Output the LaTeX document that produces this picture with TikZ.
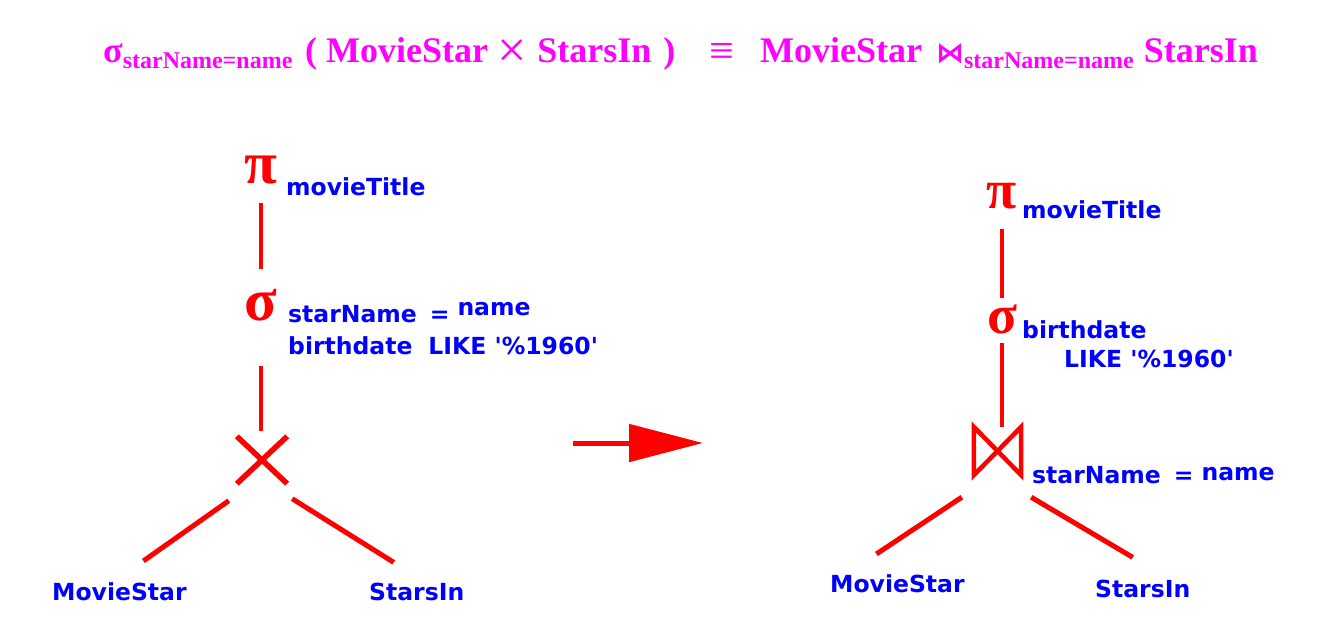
\documentclass[tikz,border=0pt]{standalone}
\usepackage{fontspec}
\setmainfont{Liberation Serif}
\newfontfamily\labfont{DejaVu Sans}
\newfontfamily\symfont{DejaVu Sans}
\usetikzlibrary{calc,arrows.meta}

\definecolor{ttlmagenta}{RGB}{255,0,255}
\definecolor{labblue}{RGB}{0,0,255}
\definecolor{opred}{RGB}{255,0,0}

\newcommand{\ttlsub}[1]{\raisebox{-6pt}{\fontsize{24}{24}\selectfont #1}}
\newcommand{\condeq}[1]{starName\hspace{13pt}=\hspace{8pt}\raisebox{#1}{name}}

\begin{document}
\begin{tikzpicture}[x=1pt,y=-1pt,
    ttl/.style={anchor=base west,inner sep=0,text=ttlmagenta,
        font=\bfseries\fontsize{36}{36}\selectfont},
    lab/.style={anchor=base west,inner sep=0,text=labblue,
        font=\labfont\bfseries\fontsize{23.5}{23.5}\selectfont},
    op/.style={anchor=base,inner sep=0,text=opred,
        font=\bfseries\fontsize{#1}{#1}\selectfont},
    op/.default=60,
    edge/.style={draw=opred,line width=3.5pt},
    branch/.style={draw=opred,line width=5pt}]
    \fill[white] (0,0) rectangle (1319,625);
    \useasboundingbox (0,0) rectangle (1319,625);

    \node[ttl] (tsel) at (103,62) {σ\ttlsub{starName=name}};
    \node[ttl] (tprod) at (305,62)
        {( MovieStar\hspace{9pt}\raisebox{-5pt}{\mdseries\fontsize{52}{52}\selectfont ×}\hspace{11pt}StarsIn\hspace{3pt} )};
    \node[ttl] (teq) at (709,62) {\raisebox{-3pt}{\mdseries\fontsize{44}{44}\selectfont ≡}};
    \node[ttl] (tjoin) at (760,62)
        {MovieStar\hspace{14pt}{\symfont\fontsize{28}{28}\selectfont ⋈}\ttlsub{starName=name}\hspace{10pt}StarsIn};

    \node[op] (piL) at (261,183) {π};
    \node[lab] (projL) at (286,195) {movieTitle};
    \node[op] (sigL) at (261,320) {σ};
    \node[lab] (condL) at (288,322) {\condeq{7pt}};
    \node[lab] (likeL) at (288,354) {birthdate\hspace{16pt}LIKE \textquotesingle\%1960\textquotesingle};
    \node[minimum width=50,minimum height=47,inner sep=0] (crossL) at (262,460) {};
    \node[lab] (msL) at (52,600) {MovieStar};
    \node[lab] (siL) at (369,600) {StarsIn};

    \draw[edge,shorten <=19pt,shorten >=20pt] (piL.south) -- (piL.south |- sigL.north);
    \draw[edge,shorten <=45pt,shorten >=5pt] (sigL.south) -- (sigL.south |- crossL.north);
    \draw[branch,line width=5.5pt] (crossL.north west) -- (crossL.south east);
    \draw[branch,line width=5.5pt] (crossL.north east) -- (crossL.south west);
    \draw[branch] ($(crossL.south west)+(-8,17)$) -- ($(msL.north)+(24,-21)$);
    \draw[branch] ($(crossL.south east)+(5,15)$) -- ($(siL.north)+(-23,-20)$);

    \coordinate (arrS) at (573,443);
    \coordinate (arrE) at (703,443);
    \draw[opred,line width=5pt,-{Triangle[length=74pt,width=37pt]}] (arrS) -- (arrE);

    \node[op=55] (piR) at (1002,208) {π};
    \node[lab] (projR) at (1022,218) {movieTitle};
    \node[op=55] (sigR) at (1002,333) {σ};
    \node[lab] (condR) at (1022,338) {birthdate};
    \node[lab] (likeR) at (1064,367) {LIKE \textquotesingle\%1960\textquotesingle};
    \node[minimum width=47,minimum height=48,inner sep=0] (joinR) at (997.5,451) {};
    \node[lab] (eqR) at (1032,483) {\condeq{3pt}};
    \node[lab] (msR) at (830,592) {MovieStar};
    \node[lab] (siR) at (1095,597) {StarsIn};

    \draw[edge,shorten <=20pt,shorten >=6pt] (piR.south) -- (piR.south |- sigR.north);
    \draw[edge,shorten <=9pt] (sigR.south) -- (sigR.south |- joinR.north);
    \draw[edge,line width=4.5pt,line join=miter] (joinR.north west) -- (joinR.south west)
        -- (joinR.north east) -- (joinR.south east) -- cycle;
    \draw[branch] ($(joinR.south west)+(-12,22)$) -- ($(msR.north)+(-21,-20)$);
    \draw[branch] ($(joinR.south east)+(10,22)$) -- ($(siR.north)+(-10,-22)$);
\end{tikzpicture}
\end{document}
